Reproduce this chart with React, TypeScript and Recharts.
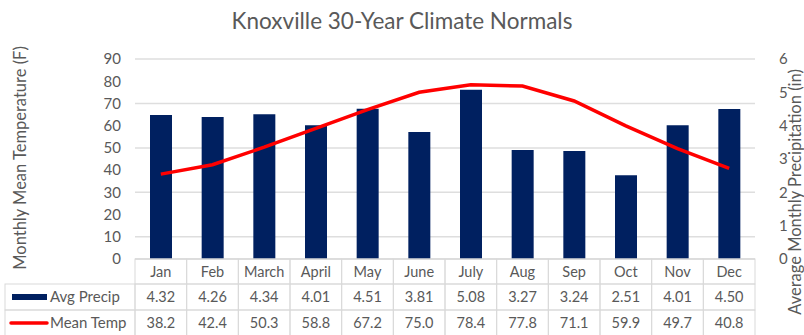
import React from "react";
import { ComposedChart, Bar, Line, XAxis, YAxis, CartesianGrid } from "recharts";

const months = ["Jan", "Feb", "March", "April", "May", "June", "July", "Aug", "Sep", "Oct", "Nov", "Dec"];
const avgPrecip = [4.32, 4.26, 4.34, 4.01, 4.51, 3.81, 5.08, 3.27, 3.24, 2.51, 4.01, 4.5];
const meanTemp = [38.2, 42.4, 50.3, 58.8, 67.2, 75.0, 78.4, 77.8, 71.1, 59.9, 49.7, 40.8];
const tempTicks = [0, 10, 20, 30, 40, 50, 60, 70, 80, 90];
const precipTicks = [0, 1, 2, 3, 4, 5, 6];
const precipLabels = avgPrecip.map((v) => v.toFixed(2));
const tempLabels = meanTemp.map((v) => v.toFixed(1));

const data = months.map((m, i) => ({ month: m, precip: avgPrecip[i], temp: meanTemp[i] }));

const W = 804;
const H = 335;
const LEFT = 135;
const RIGHT_W = 49;
const CELL_W = (W - LEFT - RIGHT_W) / months.length;
const FONT = "Lato, 'Open Sans', sans-serif";
const TEXT = "#595959";
const BORDER = "#d9d9d9";
const ROW1 = 25;
const ROW2 = 26;
const ROW3 = 26;

const TableTick = (props: any) => {
  const { x, y, payload, index } = props;
  const left = x - CELL_W / 2;
  const y0 = y;
  const y1 = y0 + ROW1;
  const y2 = y1 + ROW2;
  const y3 = y2 + ROW3;
  return (
    <g>
      {index === 0 && (
        <g>
          <rect x={5} y={y1} width={left - 5} height={ROW2} fill="none" stroke={BORDER} />
          <rect x={5} y={y2} width={left - 5} height={ROW3} fill="none" stroke={BORDER} />
          <rect x={12} y={y1 + ROW2 / 2 - 3} width={35} height={6} fill="#002060" />
          <line x1={11} x2={47} y1={y2 + ROW3 / 2} y2={y2 + ROW3 / 2} stroke="#ff0000" strokeWidth={3.5} strokeLinecap="round" />
          <text x={50} y={y1 + ROW2 / 2 + 5} fill={TEXT} fontSize={15} fontFamily={FONT}>Avg Precip</text>
          <text x={50} y={y2 + ROW3 / 2 + 5} fill={TEXT} fontSize={15} fontFamily={FONT}>Mean Temp</text>
        </g>
      )}
      <rect x={left} y={y0} width={CELL_W} height={ROW1} fill="none" stroke={BORDER} />
      <rect x={left} y={y1} width={CELL_W} height={ROW2} fill="none" stroke={BORDER} />
      <rect x={left} y={y2} width={CELL_W} height={ROW3} fill="none" stroke={BORDER} />
      <text x={x} y={y0 + ROW1 / 2 + 5} textAnchor="middle" fill={TEXT} fontSize={14.5} fontFamily={FONT}>{payload.value}</text>
      <text x={x} y={y1 + ROW2 / 2 + 5} textAnchor="middle" fill={TEXT} fontSize={14.5} fontFamily={FONT}>{precipLabels[index]}</text>
      <text x={x} y={y2 + ROW3 / 2 + 5} textAnchor="middle" fill={TEXT} fontSize={14.5} fontFamily={FONT}>{tempLabels[index]}</text>
    </g>
  );
};

const LeftTitle = () => (
  <text x={26} y={158} transform="rotate(-90 26 158)" textAnchor="middle" fill={TEXT} fontSize={16.5} fontFamily={FONT}>
    Monthly Mean Temperature (F)
  </text>
);

const RightTitle = () => (
  <text x={801} y={192} transform="rotate(-90 801 192)" textAnchor="middle" fill={TEXT} fontSize={16.5} fontFamily={FONT}>
    Average Monthly Precipitation (in)
  </text>
);

export default function App() {
  return (
    <div style={{ position: "absolute", left: 0, top: 0, width: W, height: H, background: "#fff" }}>
      <div
        style={{
          position: "absolute",
          left: 0,
          top: 8,
          width: W,
          textAlign: "center",
          fontFamily: FONT,
          fontSize: 22.5,
          color: TEXT,
          lineHeight: "26px",
        }}
      >
        Knoxville 30-Year Climate Normals
      </div>
      <ComposedChart width={W} height={H} data={data} margin={{ top: 59, right: 0, left: 0, bottom: 0 }}>
        <CartesianGrid yAxisId="left" vertical={false} stroke="#dedede" strokeWidth={1.5} />
        <XAxis
          dataKey="month"
          height={H - 259}
          tickLine={false}
          tickSize={0}
          tickMargin={0}
          axisLine={{ stroke: BORDER }}
          interval={0}
          tick={<TableTick />}
        />
        <YAxis
          yAxisId="left"
          width={LEFT}
          domain={[0, 90]}
          ticks={tempTicks}
          axisLine={false}
          tickLine={false}
          tickMargin={8}
          tick={{ fill: TEXT, fontSize: 15, fontFamily: FONT }}
          label={<LeftTitle />}
        />
        <YAxis
          yAxisId="right"
          orientation="right"
          width={RIGHT_W}
          domain={[0, 6]}
          ticks={precipTicks}
          axisLine={false}
          tickLine={false}
          tickMargin={18}
          tick={{ fill: TEXT, fontSize: 15, fontFamily: FONT }}
          label={<RightTitle />}
        />
        <Bar yAxisId="right" dataKey="precip" fill="#002060" barSize={22} isAnimationActive={false} />
        <Line
          yAxisId="left"
          type="linear"
          dataKey="temp"
          stroke="#ff0000"
          strokeWidth={3.5}
          dot={false}
          isAnimationActive={false}
        />
      </ComposedChart>
    </div>
  );
}
